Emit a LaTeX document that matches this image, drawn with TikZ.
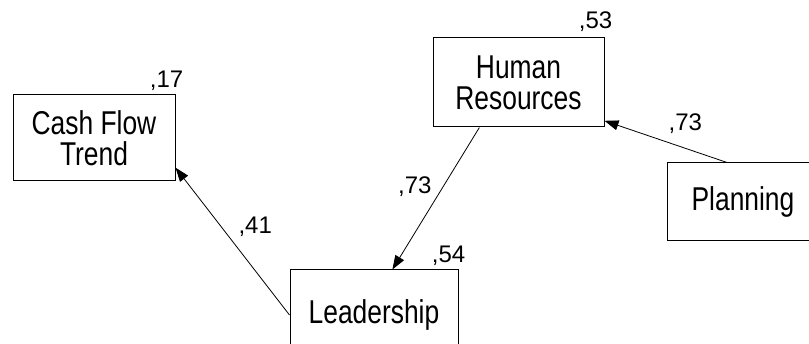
\documentclass[tikz,border=0pt]{standalone}
\usepackage{fontspec}
\setmainfont{Liberation Sans}
\newfontfamily\boxfont{Liberation Sans}[FakeStretch=0.8]
\usepackage{tikz}
\usetikzlibrary{arrows.meta, positioning}

\begin{document}
\begin{tikzpicture}[
  x=1pt, y=-1pt,
  box/.style={draw=black, line width=1pt, fill=white, inner sep=0pt, align=center,
              font=\boxfont\fontsize{33}{31}\selectfont},
  arrow/.style={-{Triangle[length=14pt, width=10pt]}, line width=0.8pt},
  coef/.style={font=\fontsize{24}{28}\selectfont, inner sep=0pt}
]

\useasboundingbox[fill=white] (0,0) rectangle (809,344);
\clip (0,0) rectangle (809,344);

% Boxes
\node[box, minimum width=162pt, minimum height=86pt] (cash) at (94,138) {Cash Flow\\Trend};
\node[box, minimum width=171pt, minimum height=89pt] (hr) at (518.5,82.5) {Human\\Resources};
\node[box, minimum width=168pt, minimum height=90pt] (lead) at (374,315) {Leadership};
\node[box, minimum width=152pt, minimum height=78pt] (plan) at (743,202) {Planning};

% Squared multiple correlations
\node[coef, anchor=base east, xshift=8pt, yshift=7pt] (r2cash) at (cash.north east) {,17};
\node[coef, anchor=base east, xshift=8pt, yshift=9pt] (r2hr) at (hr.north east) {,53};
\node[coef, anchor=base east, xshift=7pt, yshift=7pt] (r2lead) at (lead.north east) {,54};

% Paths
\draw[arrow] (lead.west) -- node[coef, pos=0.6, right=17pt] {,41} (cash.-20);
\draw[arrow] (hr.-131) -- node[coef, pos=0.42, left=11pt] {,73} (lead.68);
\draw[arrow] (plan.112) -- node[coef, pos=0.34, above=14pt] {,73} (hr.-24);

\end{tikzpicture}
\end{document}
